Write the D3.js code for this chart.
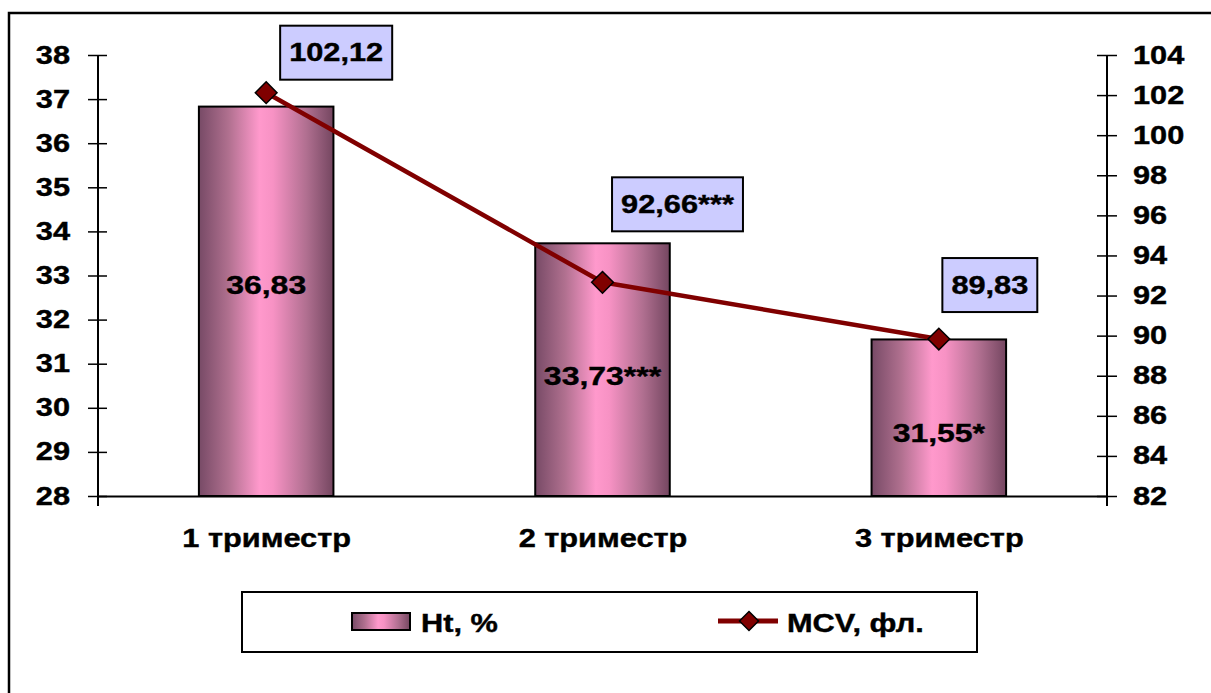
<!DOCTYPE html>
<html>
<head>
<meta charset="utf-8">
<script src="https://cdn.jsdelivr.net/npm/d3@7"></script>
<style>
  html, body { margin: 0; padding: 0; background: #fff; }
  svg { display: block; font-family: "Liberation Sans", Arial, sans-serif; font-weight: bold; }
  svg text { stroke: #000; stroke-width: 0.4px; }
</style>
</head>
<body>
<svg id="chart" width="1211" height="693"></svg>
<script>
// Data
const categories = ["1 триместр", "2 триместр", "3 триместр"];
const htValues = [36.83, 33.73, 31.55];
const htLabels = ["36,83", "33,73***", "31,55*"];
const mcvValues = [102.12, 92.66, 89.83];
const mcvLabels = ["102,12", "92,66***", "89,83"];
const leftTicks = [28, 29, 30, 31, 32, 33, 34, 35, 36, 37, 38];
const rightTicks = [82, 84, 86, 88, 90, 92, 94, 96, 98, 100, 102, 104];
const seriesNames = ["Ht, %", "MCV, фл."];

const FONT = "Liberation Sans, Arial, sans-serif";
const WIDEN = 1.23; // horizontal stretch of the lettering

// Moves a text's x/y into a transform so it can be widened about its anchor
function widen(sel) {
  sel.each(function () {
    const t = d3.select(this);
    const tx = +t.attr("x") || 0, ty = +t.attr("y") || 0;
    const prev = t.attr("transform") || "";
    t.attr("x", 0).attr("y", 0)
      .attr("transform", `${prev} translate(${tx},${ty}) scale(${WIDEN},1)`);
  });
}

const svg = d3.select("#chart");

// Frame
svg.append("rect")
  .attr("x", 9).attr("y", 13)
  .attr("width", 1230).attr("height", 700)
  .attr("fill", "#fff").attr("stroke", "#000").attr("stroke-width", 2.5);

// Plot area
const plot = { left: 98, right: 1107, top: 55, bottom: 496 };

const x = d3.scalePoint().domain(categories)
  .range([plot.left, plot.right]).padding(0.5);
const step = x.step();
const barWidth = step * 0.4;

const yLeft = d3.scaleLinear().domain([28, 38]).range([plot.bottom, plot.top]);
const yRight = d3.scaleLinear().domain([82, 104]).range([plot.bottom, plot.top]);

// Bar gradient: dark plum edges, pink centre
const defs = svg.append("defs");
const grad = defs.append("linearGradient").attr("id", "barGrad")
  .attr("x1", "0%").attr("x2", "100%").attr("y1", "0%").attr("y2", "0%");
[[0, "#774a66"], [0.22, "#b0708f"], [0.45, "#ff99cc"], [0.55, "#f792c4"], [0.8, "#b06f90"], [1, "#744660"]]
  .forEach(([o, c]) => grad.append("stop").attr("offset", o).attr("stop-color", c));

// Bars
svg.append("g").selectAll("rect")
  .data(htValues)
  .join("rect")
  .attr("x", (d, i) => x(categories[i]) - barWidth / 2)
  .attr("y", d => yLeft(d))
  .attr("width", barWidth)
  .attr("height", d => yLeft(28) - yLeft(d))
  .attr("fill", "url(#barGrad)")
  .attr("stroke", "#000").attr("stroke-width", 2);

// Category axis
const xAxis = d3.axisBottom(x).tickSize(0).tickPadding(33);
const gx = svg.append("g").attr("transform", `translate(0,${plot.bottom})`).call(xAxis);
gx.select(".domain").attr("stroke", "#000").attr("stroke-width", 2);
gx.selectAll("text").attr("font-size", 25).attr("font-weight", "bold")
  .attr("fill", "#000").attr("font-family", FONT).call(widen);

// Left axis (ticks cross the axis line)
const gl = svg.append("g").attr("transform", `translate(${plot.left},0)`)
  .call(d3.axisLeft(yLeft).tickValues(leftTicks).tickSize(10).tickPadding(18).tickSizeOuter(0));
gl.select(".domain").attr("stroke", "#000").attr("stroke-width", 2)
  .attr("d", `M0,${plot.top}V${plot.bottom + 10}`);
gl.selectAll(".tick line").attr("x1", -10).attr("x2", 9).attr("stroke", "#000").attr("stroke-width", 1.5);
gl.selectAll("text").attr("font-size", 25).attr("font-weight", "bold").attr("fill", "#000")
  .attr("font-family", FONT).call(widen);

// Right axis
const gr = svg.append("g").attr("transform", `translate(${plot.right},0)`)
  .call(d3.axisRight(yRight).tickValues(rightTicks).tickSize(10).tickPadding(16).tickSizeOuter(0));
gr.select(".domain").attr("stroke", "#000").attr("stroke-width", 2)
  .attr("d", `M0,${plot.top}V${plot.bottom + 10}`);
gr.selectAll(".tick line").attr("x1", -10).attr("x2", 10).attr("stroke", "#000").attr("stroke-width", 1.5);
gr.selectAll("text").attr("font-size", 25).attr("font-weight", "bold").attr("fill", "#000")
  .attr("font-family", FONT).call(widen);

// Bar value labels (nudged inside each bar)
const barLabelShift = [-16, 6, 15];
svg.append("g").selectAll("text")
  .data(htValues)
  .join("text")
  .attr("x", (d, i) => x(categories[i]))
  .attr("y", (d, i) => (yLeft(d) + yLeft(28)) / 2 + barLabelShift[i])
  .attr("text-anchor", "middle").attr("dominant-baseline", "central")
  .attr("font-size", 26).attr("fill", "#000")
  .text((d, i) => htLabels[i])
  .call(widen);

// MCV line
const line = d3.line()
  .x((d, i) => x(categories[i]))
  .y(d => yRight(d));
svg.append("path").datum(mcvValues)
  .attr("d", line)
  .attr("fill", "none").attr("stroke", "#800000").attr("stroke-width", 4.5)
  .attr("stroke-linejoin", "round");

const diamond = d3.symbol().type(d3.symbolDiamond2).size(300);
svg.append("g").selectAll("path")
  .data(mcvValues)
  .join("path")
  .attr("transform", (d, i) => `translate(${x(categories[i])},${yRight(d)})`)
  .attr("d", diamond)
  .attr("fill", "#800000").attr("stroke", "#000").attr("stroke-width", 1.5);

// MCV value boxes
const boxOffset = [[70, -40], [75, -78], [51, -54]];
const boxes = svg.append("g").selectAll("g")
  .data(mcvValues)
  .join("g")
  .attr("transform", (d, i) => `translate(${x(categories[i]) + boxOffset[i][0]},${yRight(d) + boxOffset[i][1]})`);
boxes.append("text")
  .attr("text-anchor", "middle").attr("dominant-baseline", "central")
  .attr("font-size", 25).attr("fill", "#000")
  .text((d, i) => mcvLabels[i])
  .attr("transform", `scale(${WIDEN},1)`);
boxes.each(function () {
  const g = d3.select(this);
  const w = g.select("text").node().getBBox().width * WIDEN;
  g.insert("rect", "text")
    .attr("x", -w / 2 - 9).attr("y", -27)
    .attr("width", w + 18).attr("height", 54)
    .attr("fill", "#ccccff").attr("stroke", "#000").attr("stroke-width", 2);
});

// Legend
const legend = svg.append("g");
legend.append("rect")
  .attr("x", 242).attr("y", 592).attr("width", 735).attr("height", 60)
  .attr("fill", "#fff").attr("stroke", "#000").attr("stroke-width", 2);
legend.append("rect")
  .attr("x", 352).attr("y", 613).attr("width", 58).attr("height", 17)
  .attr("fill", "url(#barGrad)").attr("stroke", "#000").attr("stroke-width", 2);
legend.append("text").attr("x", 421).attr("y", 632)
  .attr("font-size", 25).attr("fill", "#000").text(seriesNames[0]).call(widen);
legend.append("line")
  .attr("x1", 718).attr("x2", 778).attr("y1", 621).attr("y2", 621)
  .attr("stroke", "#800000").attr("stroke-width", 5);
legend.append("path")
  .attr("transform", "translate(749,621)")
  .attr("d", d3.symbol().type(d3.symbolDiamond2).size(230))
  .attr("fill", "#800000").attr("stroke", "#000").attr("stroke-width", 1.5);
legend.append("text").attr("x", 787).attr("y", 632)
  .attr("font-size", 25).attr("fill", "#000").text(seriesNames[1]).call(widen);
</script>
</body>
</html>
